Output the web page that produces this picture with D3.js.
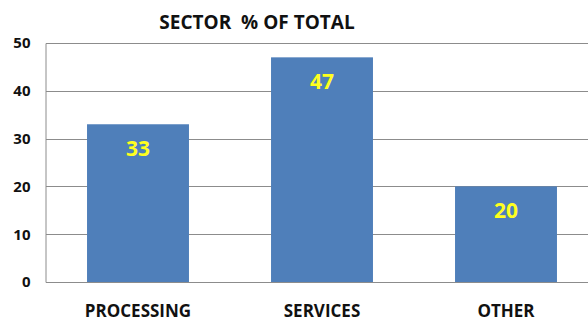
<!DOCTYPE html>
<html>
<head>
<meta charset="utf-8">
<script src="https://cdn.jsdelivr.net/npm/d3@7"></script>
<style>
  html, body { margin: 0; padding: 0; background: #fff; }
  svg { display: block; }
  text { font-family: "Open Sans", "Noto Sans", sans-serif; font-weight: bold; }
</style>
</head>
<body>
<svg id="chart" width="588" height="323"></svg>
<script>
// Sector shares of the total
const categories = ["PROCESSING", "SERVICES", "OTHER"];
const values = [33, 47, 20];
const yTicks = [0, 10, 20, 30, 40, 50];
const title = "SECTOR\u00a0\u00a0% OF TOTAL";

const svg = d3.select("#chart");
const plotLeft = 46, plotRight = 598, plotTop = 43, plotBottom = 282;

const x = d3.scaleBand()
  .domain(categories)
  .range([plotLeft, plotRight])
  .paddingInner(0.446)
  .paddingOuter(0.223);

const y = d3.scaleLinear().domain([0, 50]).range([plotBottom, plotTop]);

// horizontal gridlines
svg.append("g")
  .selectAll("line")
  .data(yTicks.filter(d => d > 0))
  .join("line")
  .attr("x1", plotLeft).attr("x2", 588)
  .attr("y1", d => Math.round(y(d)) + 0.5)
  .attr("y2", d => Math.round(y(d)) + 0.5)
  .attr("stroke", "#8c8c8c")
  .attr("stroke-width", 1);

// y axis
const yAxis = d3.axisLeft(y).tickValues(yTicks).tickSize(0).tickPadding(15);
const gy = svg.append("g")
  .attr("transform", `translate(${plotLeft - 0.5},0)`)
  .call(yAxis);
gy.select(".domain").attr("stroke", "#8c8c8c");
gy.selectAll("text")
  .attr("fill", "#111")
  .style("font-size", "15px");

// bars
svg.append("g")
  .selectAll("rect")
  .data(values)
  .join("rect")
  .attr("x", (d, i) => x(categories[i]))
  .attr("y", d => y(d))
  .attr("width", x.bandwidth())
  .attr("height", d => y(0) - y(d))
  .attr("fill", "#4f7fba");

// baseline
svg.append("line")
  .attr("x1", plotLeft).attr("x2", 588)
  .attr("y1", plotBottom + 0.5).attr("y2", plotBottom + 0.5)
  .attr("stroke", "#8c8c8c");

// value labels inside bars
svg.append("g")
  .selectAll("text")
  .data(values)
  .join("text")
  .attr("x", (d, i) => x(categories[i]) + x.bandwidth() / 2)
  .attr("y", d => y(d) + 32)
  .attr("text-anchor", "middle")
  .attr("fill", "#ffff1e")
  .style("font-size", "21px")
  .text(d => d);

// category labels
svg.append("g")
  .selectAll("text")
  .data(categories)
  .join("text")
  .attr("x", d => x(d) + x.bandwidth() / 2)
  .attr("y", 317)
  .attr("text-anchor", "middle")
  .attr("fill", "#111")
  .style("font-size", "17px")
  .text(d => d);

// title
svg.append("text")
  .attr("x", 257)
  .attr("y", 29)
  .attr("text-anchor", "middle")
  .attr("fill", "#111")
  .style("font-size", "19px")
  .text(title);
</script>
</body>
</html>
